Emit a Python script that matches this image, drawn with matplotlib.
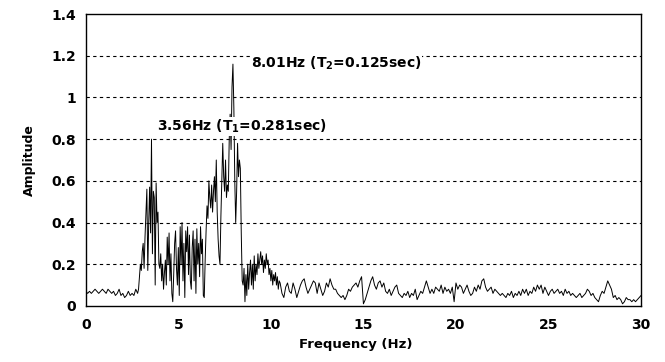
import numpy as np
import matplotlib
matplotlib.use("Agg")
import matplotlib.pyplot as plt

# spectrum, three pieces with their own spacing
freq_a_start, freq_a_step = 0.0, 0.1
amp_a = [0.07, 0.06, 0.07, 0.06, 0.07, 0.08, 0.07, 0.06, 0.07, 0.08,
         0.07, 0.06, 0.08, 0.07, 0.06, 0.07, 0.05, 0.06, 0.08, 0.05,
         0.06, 0.04, 0.05, 0.07, 0.05, 0.06, 0.05, 0.08]

freq_b_start, freq_b_step = 2.8, 0.05
amp_b = [0.06, 0.08, 0.14, 0.20, 0.17, 0.26, 0.30, 0.18, 0.33, 0.45,
         0.56, 0.17, 0.40, 0.57, 0.35, 0.80, 0.25, 0.55, 0.52, 0.10,
         0.59, 0.40, 0.45, 0.20, 0.18, 0.25, 0.12, 0.20, 0.08, 0.16,
         0.22, 0.10, 0.33, 0.20, 0.35, 0.12, 0.25, 0.06, 0.02, 0.15,
         0.30, 0.36, 0.18, 0.10, 0.28, 0.05, 0.38, 0.20, 0.40, 0.12,
         0.30, 0.04, 0.36, 0.26, 0.38, 0.15, 0.34, 0.12, 0.08, 0.28,
         0.36, 0.12, 0.32, 0.06, 0.37, 0.20, 0.30, 0.14, 0.38, 0.25,
         0.32, 0.05, 0.04, 0.22, 0.36, 0.48, 0.42, 0.60, 0.52, 0.47,
         0.58, 0.45, 0.55, 0.62, 0.50, 0.70, 0.45, 0.32, 0.24, 0.20,
         0.43, 0.60, 0.78, 0.62, 0.55, 0.70, 0.52, 0.58, 0.55, 0.80,
         0.92, 0.75, 1.05, 1.16, 0.95, 0.60, 0.40, 0.55, 0.78, 0.62,
         0.70, 0.66, 0.35, 0.12, 0.10, 0.18, 0.02, 0.15, 0.05, 0.20,
         0.08, 0.16, 0.22, 0.10, 0.20, 0.08, 0.24, 0.12, 0.20, 0.15,
         0.25, 0.18, 0.22, 0.26, 0.20, 0.24, 0.16, 0.22, 0.18, 0.25,
         0.20, 0.22, 0.15, 0.18, 0.12, 0.17, 0.10, 0.15, 0.12, 0.16,
         0.10, 0.14, 0.08, 0.12]

freq_c_start, freq_c_step = 10.5, 0.1
amp_c = [0.11, 0.06, 0.04, 0.09, 0.11, 0.07, 0.06, 0.11, 0.08, 0.04,
         0.07, 0.10, 0.12, 0.13, 0.09, 0.06, 0.08, 0.10, 0.12, 0.11,
         0.06, 0.11, 0.08, 0.05, 0.07, 0.11, 0.09, 0.13, 0.10, 0.08,
         0.08, 0.06, 0.05, 0.04, 0.05, 0.03, 0.05, 0.08, 0.07, 0.09,
         0.10, 0.11, 0.09, 0.12, 0.14, 0.01, 0.03, 0.06, 0.09, 0.12,
         0.14, 0.10, 0.08, 0.11, 0.12, 0.09, 0.11, 0.07, 0.06, 0.08,
         0.05, 0.07, 0.09, 0.10, 0.06, 0.05, 0.04, 0.06, 0.05, 0.07,
         0.04, 0.06, 0.05, 0.08, 0.03, 0.05, 0.07, 0.06, 0.09, 0.12,
         0.09, 0.06, 0.08, 0.06, 0.09, 0.08, 0.07, 0.10, 0.06, 0.09,
         0.07, 0.08, 0.06, 0.09, 0.02, 0.11, 0.08, 0.10, 0.09, 0.06,
         0.08, 0.10, 0.07, 0.05, 0.06, 0.09, 0.07, 0.10, 0.08, 0.12,
         0.13, 0.09, 0.07, 0.08, 0.09, 0.06, 0.08, 0.07, 0.06, 0.05,
         0.06, 0.05, 0.04, 0.06, 0.05, 0.07, 0.04, 0.06, 0.05, 0.07,
         0.05, 0.08, 0.06, 0.08, 0.05, 0.07, 0.06, 0.09, 0.07, 0.10,
         0.08, 0.10, 0.06, 0.09, 0.07, 0.05, 0.07, 0.08, 0.06, 0.07,
         0.08, 0.06, 0.07, 0.05, 0.08, 0.06, 0.07, 0.05, 0.06, 0.05,
         0.04, 0.05, 0.06, 0.04, 0.05, 0.06, 0.08, 0.07, 0.05, 0.06,
         0.04, 0.03, 0.02, 0.05, 0.07, 0.06, 0.09, 0.12, 0.10, 0.08,
         0.04, 0.05, 0.03, 0.04, 0.03, 0.01, 0.02, 0.04, 0.03, 0.03,
         0.02, 0.03, 0.02, 0.03, 0.04, 0.05]

x_ticks = [0, 5, 10, 15, 20, 25, 30]
y_ticks = [0, 0.2, 0.4, 0.6, 0.8, 1.0, 1.2, 1.4]
y_labels = ["0", "0.2", "0.4", "0.6", "0.8", "1", "1.2", "1.4"]

peak_labels = ["3.56Hz (T$_\\mathbf{1}$=0.281sec)", "8.01Hz (T$_\\mathbf{2}$=0.125sec)"]
peak_label_pos = [(3.84, 0.86), (8.92, 1.165)]


def grid_of(start, step, values):
    return start + step * np.arange(len(values))


freq = np.concatenate([grid_of(freq_a_start, freq_a_step, amp_a),
                       grid_of(freq_b_start, freq_b_step, amp_b),
                       grid_of(freq_c_start, freq_c_step, amp_c)])
amp = np.array(amp_a + amp_b + amp_c)

plt.rcParams["font.family"] = ["DejaVu Sans"]
plt.rcParams["font.weight"] = "bold"
plt.rcParams["mathtext.fontset"] = "dejavusans"

fig = plt.figure(figsize=(6.65, 3.62), dpi=100)
ax = fig.add_axes([0.129, 0.155, 0.835, 0.806])

ax.plot(freq, amp, color="black", lw=0.7)

ax.set_xlim(0, 30)
ax.set_ylim(0, 1.4)
ax.set_xticks(x_ticks)
ax.set_yticks(y_ticks)
ax.set_yticklabels(y_labels)
ax.tick_params(length=0, labelsize=10)
ax.tick_params(axis="x", pad=9)
ax.tick_params(axis="y", pad=7)
for lbl in ax.get_xticklabels() + ax.get_yticklabels():
    lbl.set_fontweight("bold")

for yv in y_ticks[1:-1]:
    ax.axhline(yv, color="black", lw=0.8, ls=(0, (3, 3)), zorder=0)

for sp in ax.spines.values():
    sp.set_linewidth(1.0)

ax.set_xlabel("Frequency (Hz)", fontsize=9.5, fontweight="bold")
ax.xaxis.set_label_coords(0.486, -0.11)
ax.set_ylabel("Amplitude", fontsize=9, fontweight="bold", labelpad=11)

for txt, (tx, ty) in zip(peak_labels, peak_label_pos):
    ax.text(tx, ty, txt, fontsize=10, fontweight="bold", va="center", ha="left",
            bbox=dict(facecolor="white", edgecolor="none", pad=0.5))

fig.savefig("out.png", dpi=100)
